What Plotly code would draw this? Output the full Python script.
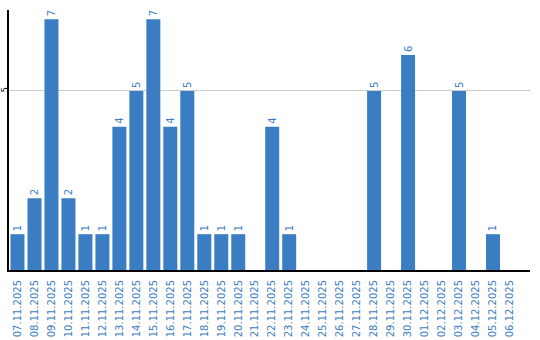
import plotly.graph_objects as go

dates = ["07.11.2025", "08.11.2025", "09.11.2025", "10.11.2025", "11.11.2025", "12.11.2025",
         "13.11.2025", "14.11.2025", "15.11.2025", "16.11.2025", "17.11.2025", "18.11.2025",
         "19.11.2025", "20.11.2025", "21.11.2025", "22.11.2025", "23.11.2025", "24.11.2025",
         "25.11.2025", "26.11.2025", "27.11.2025", "28.11.2025", "29.11.2025", "30.11.2025",
         "01.12.2025", "02.12.2025", "03.12.2025", "04.12.2025", "05.12.2025", "06.12.2025"]
counts = [1, 2, 7, 2, 1, 1, 4, 5, 7, 4, 5, 1, 1, 1, None, 4, 1, None, None, None, None,
          5, None, 6, None, None, 5, None, 1, None]

blue = "#3a7dc2"

fig = go.Figure(go.Bar(
    x=dates, y=counts,
    marker=dict(color=blue, line=dict(width=0)),
    text=[("" if v is None else str(v)) for v in counts],
    textposition="outside", textangle=-90,
    textfont=dict(family="DejaVu Sans", size=10, color=blue),
    cliponaxis=False,
))

fig.update_layout(
    width=540, height=340,
    margin=dict(l=9, r=10, t=10, b=70),
    plot_bgcolor="white", paper_bgcolor="white",
    bargap=0.176, showlegend=False,
    xaxis=dict(type="category", tickangle=-90, showline=True, linecolor="black", linewidth=2,
               range=[-0.5, len(dates) + 0.18],
               tickfont=dict(family="DejaVu Sans", size=10, color=blue), ticks="",
               showgrid=False, automargin=False, ticklabelstandoff=4),
    yaxis=dict(range=[0, 7.26], tickvals=[5], ticktext=["5"], tickangle=-90,
               showline=True, linecolor="black", linewidth=2, showgrid=True,
               gridcolor="#cccccc", gridwidth=1, zeroline=False, ticks="",
               automargin=False, ticklabelstandoff=-4,
               tickfont=dict(family="DejaVu Sans", size=8, color="black")),
)

fig.write_html("out.html")
